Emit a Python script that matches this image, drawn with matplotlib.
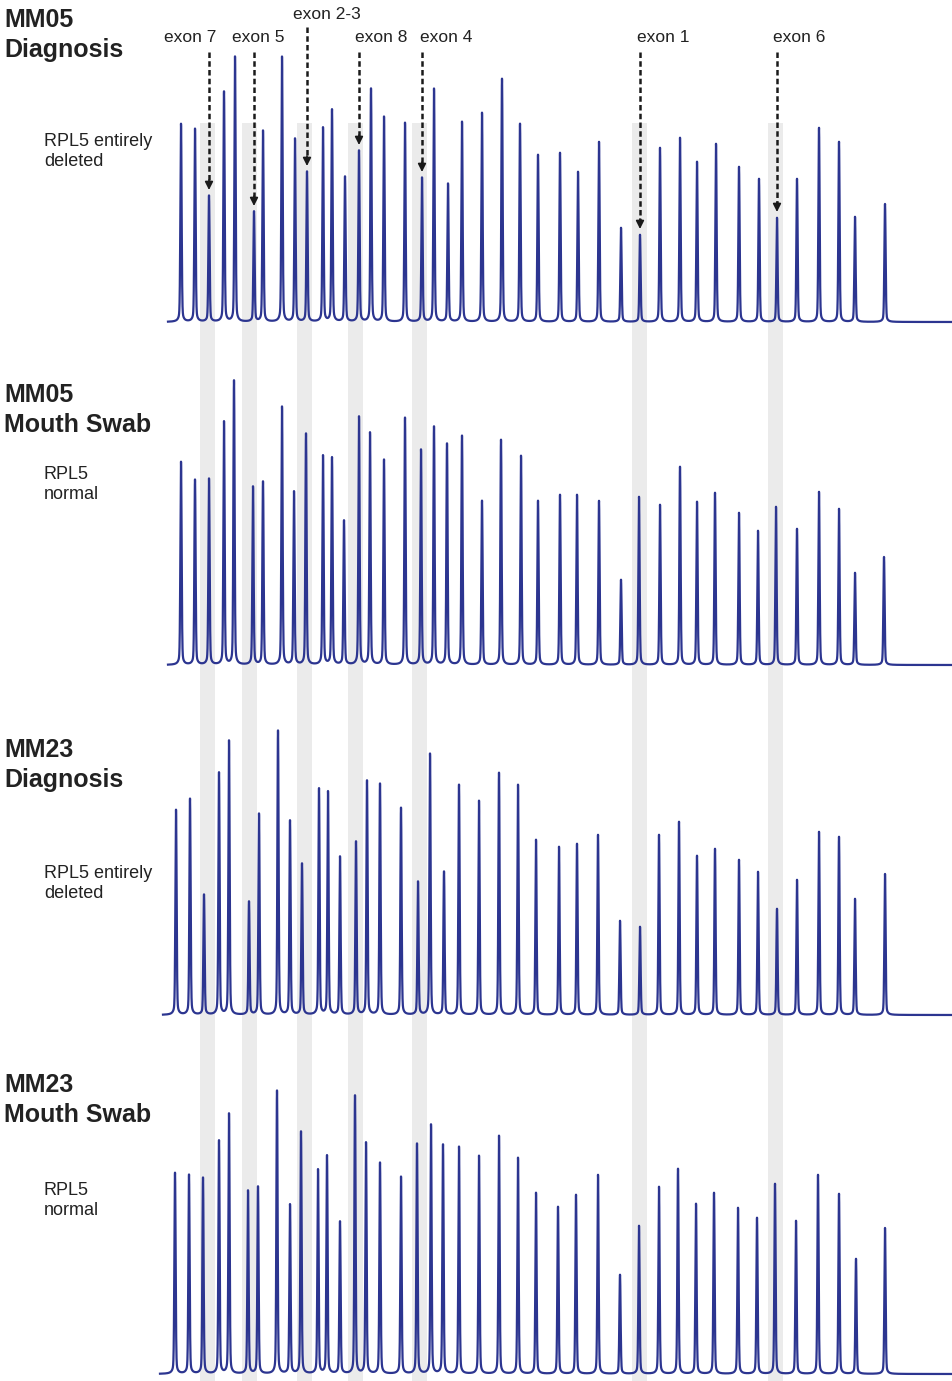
import numpy as np
import matplotlib
matplotlib.use('Agg')
import matplotlib.pyplot as plt

plt.rcParams['font.family'] = ['Liberation Sans', 'DejaVu Sans']

W, H = 953, 1381

# peak positions (size axis) and peak heights, one pair per electropherogram
pos_mm05_dx = [181, 195, 209, 224, 235, 254, 263, 282, 295, 307, 323, 332, 345, 359, 371, 384, 405, 422, 434, 448, 462,
               482, 502, 520, 538, 560, 578, 599, 621, 640, 660, 680, 697, 716, 739, 759, 777, 797, 819, 839, 855, 885]
ht_mm05_dx = [198, 193, 126, 230, 265, 110, 191, 265, 183, 150, 194, 212, 145, 171, 233, 205, 199, 144, 233, 138, 200,
              209, 243, 198, 167, 169, 150, 180, 94, 87, 174, 184, 160, 178, 155, 143, 104, 143, 194, 180, 105, 118]

pos_mm05_ms = [181, 195, 209, 224, 234, 253, 263, 282, 294, 306, 323, 332, 344, 359, 370, 384, 405, 421, 434, 447, 462,
               482, 501, 521, 538, 560, 577, 599, 621, 639, 660, 680, 697, 715, 739, 758, 776, 797, 819, 839, 855, 884]
ht_mm05_ms = [203, 185, 186, 243, 284, 178, 183, 258, 173, 231, 209, 207, 144, 248, 232, 205, 247, 215, 238, 221, 229,
              164, 225, 209, 164, 170, 170, 164, 85, 168, 160, 198, 163, 172, 152, 134, 158, 136, 173, 156, 92, 108]

pos_mm23_dx = [176, 190, 204, 219, 229, 249, 259, 278, 290, 302, 319, 328, 340, 356, 367, 380, 401, 418, 430, 444, 459,
               479, 499, 518, 536, 559, 577, 598, 620, 640, 659, 679, 697, 715, 739, 758, 777, 797, 819, 839, 855, 885]
ht_mm23_dx = [205, 216, 120, 242, 274, 113, 201, 284, 194, 151, 226, 223, 158, 173, 234, 231, 207, 133, 261, 143, 230,
              214, 242, 230, 175, 168, 171, 180, 94, 88, 180, 193, 159, 166, 155, 143, 106, 135, 183, 178, 116, 141]

pos_mm23_ms = [175, 189, 203, 219, 229, 248, 258, 277, 290, 301, 318, 327, 340, 355, 366, 380, 401, 417, 431, 443, 459,
               479, 499, 518, 536, 558, 576, 598, 620, 639, 659, 678, 696, 714, 738, 757, 775, 796, 818, 839, 856, 885]
ht_mm23_ms = [201, 199, 196, 233, 260, 183, 187, 283, 169, 242, 204, 218, 152, 278, 231, 211, 197, 230, 249, 229, 227,
              218, 238, 216, 181, 167, 179, 199, 99, 148, 187, 205, 170, 181, 166, 156, 190, 153, 199, 180, 115, 146]

titles = ['MM05\nDiagnosis', 'MM05\nMouth Swab', 'MM23\nDiagnosis', 'MM23\nMouth Swab']
notes = ['RPL5 entirely\ndeleted', 'RPL5\nnormal', 'RPL5 entirely\ndeleted', 'RPL5\nnormal']

exon_names = ['exon 7', 'exon 5', 'exon 2-3', 'exon 8', 'exon 4', 'exon 1', 'exon 6']
exon_pos = [209, 254, 307, 359, 422, 640, 777]
band_pos = [207.5, 249.5, 304.5, 355.5, 419.5, 639.5, 775.5]

# layout (pixels): baseline, trace start, axes height, title top, note top
panels = [
    (pos_mm05_dx, ht_mm05_dx, 322, 168, 322, 8, 133),
    (pos_mm05_ms, ht_mm05_ms, 665, 168, 300, 383, 466),
    (pos_mm23_dx, ht_mm23_dx, 1015, 163, 300, 738, 865),
    (pos_mm23_ms, ht_mm23_ms, 1374, 160, 300, 1073, 1182),
]
label_left = [164, 232, 293, 355, 420, 637, 773]
label_base = [42, 42, 19, 42, 42, 42, 42]


def trace(xs, pos, hts):
    # sharp spike with a small flared foot, like a capillary trace
    y = np.zeros_like(xs)
    for p, h in zip(pos, hts):
        d = xs - p
        y += h * (0.9 * np.exp(-0.5 * (d / 0.6) ** 2) + 0.1 * 2.0 / (d ** 2 + 2.0))
    return y


fig = plt.figure(figsize=(W / 100, H / 100), dpi=100)

# grey shading behind the exon probes, running down through all panels
ax_bg = fig.add_axes([0, 0, 1, 1], zorder=0)
ax_bg.set_xlim(0, W)
ax_bg.set_ylim(H, 0)
ax_bg.axis('off')
ax_bg.bar(band_pos, H - 123, bottom=123, width=15, color='#ebebeb', linewidth=0)

axes = []
for k, (pos, hts, base, x0, hpx, ttop, ntop) in enumerate(panels):
    ax = fig.add_axes([0, (H - base) / H, 1, hpx / H], zorder=1)
    ax.patch.set_alpha(0)
    ax.set_xlim(0, W)
    ax.set_ylim(0, hpx)
    ax.axis('off')
    xs = np.arange(x0, W, 0.05)
    y = trace(xs, pos, hts)
    ax.plot(xs, y, color='#2c3590', lw=1.6, clip_on=False)
    axes.append(ax)

    fig.text(4 / W, 1 - ttop / H, titles[k], fontsize=18, fontweight='bold', va='top', ha='left',
             linespacing=1.3, color='#222222')
    fig.text(44 / W, 1 - ntop / H, notes[k], fontsize=13, va='top', ha='left',
             linespacing=1.25, color='#222222')

# arrows pointing at the exon peaks in the first panel
ax1 = axes[0]
pos1 = np.array(pos_mm05_dx)
for name, xp, lx, lb in zip(exon_names, exon_pos, label_left, label_base):
    i = np.argmin(np.abs(pos1 - xp))
    tip = ht_mm05_dx[i] + 6
    start = 322 - lb - 10 if lb > 30 else 322 - 27
    ax1.plot([xp, xp], [start, tip + 8], ls=(0, (2.2, 1.3)), color='#1a1a1a', lw=1.8)
    ax1.annotate('', xy=(xp, tip), xytext=(xp, tip + 10),
                 arrowprops=dict(arrowstyle='-|>', color='#1a1a1a', lw=1.2, mutation_scale=12,
                                 shrinkA=0, shrinkB=0))
    ax1.text(lx, 322 - lb, name, fontsize=12.5, ha='left', va='baseline', color='#222222')

fig.savefig('out.png', dpi=100)
